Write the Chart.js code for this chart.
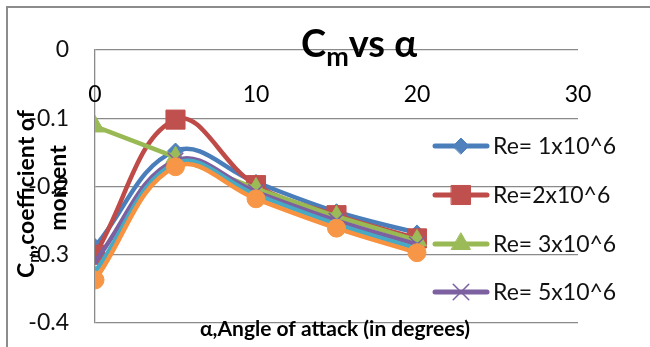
<!DOCTYPE html>
<html>
<head>
<meta charset="utf-8">
<script src="https://cdn.jsdelivr.net/npm/chart.js@4.4.1/dist/chart.umd.min.js"></script>
<style>
  html, body { margin: 0; padding: 0; background: #fff; }
  canvas { display: block; }
</style>
</head>
<body>
<canvas id="cmChart" width="650" height="347"></canvas>
<script>
// === DATA ===
const alpha = [0, 5, 10, 15, 20];
const re1 = [-0.288, -0.148, -0.194, -0.237, -0.268];
const re2 = [-0.300, -0.102, -0.198, -0.242, -0.276];
const re3 = [-0.112, -0.157, -0.203, -0.244, -0.279];
const re5 = [-0.310, -0.162, -0.208, -0.250, -0.285];
const re7 = [-0.325, -0.166, -0.212, -0.255, -0.291];
const re9 = [-0.337, -0.171, -0.218, -0.261, -0.297];
const seriesNames = ["Re= 1x10^6", "Re=2x10^6", "Re= 3x10^6", "Re= 5x10^6", "Re= 7x10^6", "Re= 9x10^6"];
const xTicks = [0, 10, 20, 30];
const yTicks = ["0", "-0.1", "-0.2", "-0.3", "-0.4"];

const FONT = "Lato, 'Open Sans', sans-serif";
const GRID = "#8a8a8a";

function pts(vals) {
    return alpha.map((a, i) => ({ x: a, y: vals[i] }));
}

function series(idx, vals, line, fill, style, radius, tension, order) {
    const thin = style === "crossRot" || style === "star";
    return {
        label: seriesNames[idx],
        data: pts(vals),
        borderColor: line,
        borderWidth: 4.5,
        backgroundColor: fill,
        pointBackgroundColor: fill,
        pointBorderColor: thin ? line : fill,
        pointBorderWidth: thin ? 1.5 : 1,
        pointStyle: style,
        pointRadius: radius,
        tension: tension,
        order: order,
        showInLegend: idx < 4,
    };
}

const datasets = [
    series(0, re1, "#4A7EBB", "#4F81BD", "rectRot", 8, 0.4, 6),
    series(1, re2, "#BE4B48", "#C0504D", "rect", 13.5, 0.4, 5),
    series(2, re3, "#98B954", "#9BBB59", "triangle", 11, 0, 4),
    series(3, re5, "#7D60A0", "#8064A2", "crossRot", 11, 0.4, 3),
    series(4, re7, "#46AAC5", "#4BACC6", "star", 6, 0.4, 2),
    series(5, re9, "#F69240", "#F79646", "circle", 9, 0.4, 1),
];

// === CUSTOM DRAWING: frame, title, axis texts, legend ===
const decorPlugin = {
    id: "decor",
    beforeDraw(chart) {
        const ctx = chart.ctx;
        ctx.save();
        ctx.strokeStyle = "#8c8c8c";
        ctx.lineWidth = 2;
        ctx.beginPath();
        ctx.moveTo(7, 347);
        ctx.lineTo(7, 7);
        ctx.lineTo(650, 7);
        ctx.stroke();
        ctx.restore();
    },
    afterDraw(chart) {
        const ctx = chart.ctx;
        const xs = chart.scales.x;
        ctx.save();
        ctx.fillStyle = "#000";

        // x tick labels (drawn under the top axis line, as in the original)
        ctx.font = "23px " + FONT;
        ctx.textAlign = "center";
        ctx.textBaseline = "middle";
        xTicks.forEach((t) => {
            ctx.fillText(String(t), xs.getPixelForValue(t), 95);
        });

        // main title  C_m vs α
        ctx.textAlign = "left";
        ctx.textBaseline = "alphabetic";
        ctx.font = "bold 38px " + FONT;
        let x = 301;
        ctx.fillText("C", x, 57);
        x += ctx.measureText("C").width;
        ctx.font = "bold 27px " + FONT;
        ctx.fillText("m", x, 66);
        x += ctx.measureText("m").width;
        ctx.font = "bold 38px " + FONT;
        ctx.fillText("vs α", x, 57);

        // x axis title
        ctx.font = "bold 21px " + FONT;
        ctx.textAlign = "center";
        ctx.fillText("α,Angle of attack (in degrees)", 335, 336);

        // y axis title, two rotated lines
        const big = "bold 23px " + FONT;
        const sub = "bold 15px " + FONT;
        ctx.save();
        ctx.translate(27, 194);
        ctx.rotate(-Math.PI / 2);
        ctx.font = big;
        const wC = ctx.measureText("C").width;
        const wRest = ctx.measureText(",coefficient of").width;
        ctx.font = sub;
        const wM = ctx.measureText("m").width;
        let lx = -(wC + wM + wRest) / 2;
        ctx.textAlign = "left";
        ctx.textBaseline = "middle";
        ctx.font = big;
        ctx.fillText("C", lx, 0);
        lx += wC;
        ctx.font = sub;
        ctx.fillText("m", lx, 7);
        lx += wM;
        ctx.font = big;
        ctx.fillText(",coefficient of", lx, 0);
        ctx.restore();

        ctx.save();
        ctx.translate(59, 188);
        ctx.rotate(-Math.PI / 2);
        ctx.font = big;
        ctx.textAlign = "center";
        ctx.textBaseline = "middle";
        ctx.fillText("moment", 0, 0);
        ctx.restore();

        // legend
        const legendY = [146, 195, 244, 292];
        let row = 0;
        chart.data.datasets.forEach((ds) => {
            if (!ds.showInLegend) return;
            const y = legendY[row++];
            ctx.strokeStyle = ds.borderColor;
            ctx.lineWidth = 5;
            ctx.lineCap = "round";
            ctx.beginPath();
            ctx.moveTo(435, y);
            ctx.lineTo(487, y);
            ctx.stroke();
            ctx.fillStyle = ds.pointBackgroundColor;
            ctx.strokeStyle = ds.pointBorderColor;
            ctx.lineWidth = ds.pointBorderWidth;
            Chart.helpers.drawPoint(ctx, {
                pointStyle: ds.pointStyle,
                radius: ds.pointRadius,
                rotation: 0,
                borderWidth: ds.pointBorderWidth,
            }, 461, y);
            ctx.fillStyle = "#111";
            ctx.font = "23px " + FONT;
            ctx.textAlign = "left";
            ctx.textBaseline = "middle";
            ctx.fillText(ds.label, 493, y + 1);
        });
        ctx.restore();
    },
};

new Chart(document.getElementById("cmChart"), {
    type: "line",
    data: { datasets },
    plugins: [decorPlugin],
    options: {
        responsive: false,
        animation: false,
        events: [],
        layout: { padding: { top: 50, right: 72, bottom: 24, left: 0 } },
        plugins: {
            legend: { display: false },
            title: { display: false },
            tooltip: { enabled: false },
        },
        scales: {
            x: {
                type: "linear",
                display: false,
                min: 0,
                max: 30,
            },
            y: {
                min: -0.4,
                max: 0,
                afterFit(scale) {
                    // fixed axis width, no extra padding for end labels
                    scale.width = 95;
                    scale.paddingTop = 0;
                    scale.paddingBottom = 0;
                },
                ticks: {
                    stepSize: 0.1,
                    padding: 26,
                    color: "#111",
                    font: { family: FONT, size: 23 },
                    callback: (v, i, ticks) => yTicks[ticks.length - 1 - i],
                },
                grid: { color: GRID, lineWidth: 1.3, drawTicks: false },
                border: { display: true, color: GRID, width: 1.3 },
            },
        },
    },
});
</script>
</body>
</html>
